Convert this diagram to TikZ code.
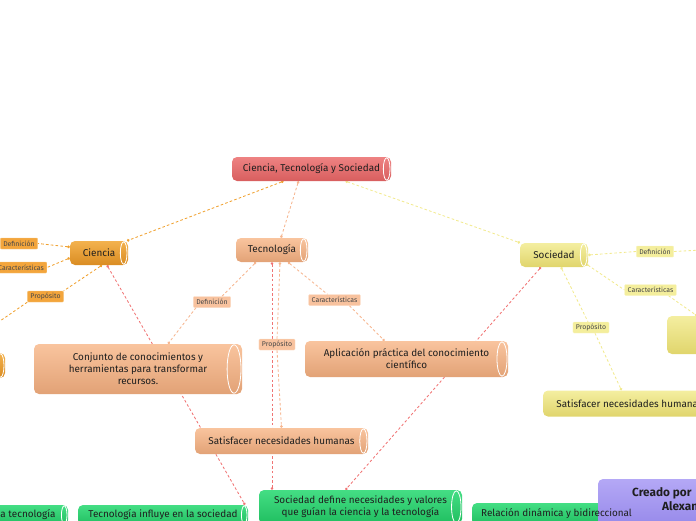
\documentclass[tikz,border=0pt]{standalone}
\usepackage{fontspec}
\setmainfont{Fira Sans}
\usetikzlibrary{arrows.meta,backgrounds,calc}
\definecolor{redT}{HTML}{EE8282}\definecolor{redB}{HTML}{D85E5E}
\definecolor{orT}{HTML}{F3B24E}\definecolor{orB}{HTML}{DA8C22}
\definecolor{saT}{HTML}{F9C49E}\definecolor{saB}{HTML}{E2A276}
\definecolor{yeT}{HTML}{F4EEA0}\definecolor{yeB}{HTML}{E0D56C}
\definecolor{grT}{HTML}{44DE84}\definecolor{grB}{HTML}{20BE60}
\definecolor{puT}{HTML}{B4A8F6}\definecolor{puB}{HTML}{8E80E6}
\definecolor{lnOr}{HTML}{F0A232}\definecolor{lnSa}{HTML}{F6B690}
\definecolor{lnYe}{HTML}{F2EA90}\definecolor{lnRe}{HTML}{F07474}
\definecolor{lbOr}{HTML}{F3A53C}\definecolor{lbSa}{HTML}{F8C29E}
\definecolor{lbYe}{HTML}{F4EE9C}
\begin{document}
\begin{tikzpicture}[x=1pt,y=-1pt,
  cylbox/.style={rectangle, rounded corners=5pt, inner sep=0pt, align=center,
    text=black!88, font=\fontsize{9.9}{12}\selectfont,
    path picture={\draw[white, line width=0.8pt]
      let \p1=(path picture bounding box.north east),
          \p2=(path picture bounding box.south east),
          \n1={abs(\y1-\y2)/2}, \n2={\n1/3.6} in
      ($(\p1)!0.5!(\p2)+(-\n2-1pt,0pt)$) ellipse [x radius=\n2, y radius=\n1-0.8pt];}},
  nRed/.style={cylbox, top color=redT, bottom color=redB},
  nOr/.style={cylbox, top color=orT, bottom color=orB},
  nSa/.style={cylbox, top color=saT, bottom color=saB},
  nYe/.style={cylbox, top color=yeT, bottom color=yeB},
  nGr/.style={cylbox, top color=grT, bottom color=grB},
  nPu/.style={cylbox, top color=puT, bottom color=puB},
  lbl/.style={rectangle, rounded corners=1pt, inner xsep=3pt, inner ysep=0pt,
    minimum height=11pt, font=\fontsize{6.9}{8}\selectfont, text=black!72},
  lOr/.style={lbl, fill=lbOr, draw=orT!70!white, line width=0.4pt},
  lSa/.style={lbl, fill=lbSa, draw=saT!60!white, line width=0.4pt},
  lYe/.style={lbl, fill=lbYe, draw=yeT!60!white, line width=0.4pt},
  lk/.style={line width=0.85pt, dash pattern=on 2.6pt off 2.2pt},
  kOr/.style={lk, draw=lnOr},
  kSa/.style={lk, draw=lnSa},
  kYe/.style={lk, draw=lnYe},
  kRe/.style={lk, draw=lnRe},
  dotboth/.style={{Circle[length=2.6pt]}-{Circle[length=2.6pt]}},
  dotstart/.style={{Circle[length=2.6pt]}-},
  dotend/.style={-{Circle[length=2.6pt]}},
  ttxt/.style={inner sep=0pt, text=black!88, font=\fontsize{9.9}{12}\selectfont}
]
\useasboundingbox (0,0) rectangle (696,520);
\clip (0,0) rectangle (696,520);

% main nodes
\node[nRed, minimum width=159pt, minimum height=24pt] (top) at (311.5,169) {Ciencia, Tecnología y Sociedad};
\node[nOr, minimum width=58pt, minimum height=24pt] (cien) at (99,253) {Ciencia};
\node[nSa, minimum width=72pt, minimum height=24pt] (tec) at (272,250) {Tecnología};
\node[nYe, minimum width=68pt, minimum height=24pt] (soc) at (554,255) {Sociedad};

\node[nSa, minimum width=208pt, minimum height=50pt] (conj) at (138,369) {Conjunto de conocimientos y\\herramientas para transformar\\recursos.};
\node[nSa, minimum width=203pt, minimum height=36pt] (apl) at (406.5,359) {Aplicación práctica del conocimiento\\científico};
\node[nSa, minimum width=173pt, minimum height=26pt] (satT) at (281.5,441) {Satisfacer necesidades humanas};
\node[nYe, minimum width=173pt, minimum height=26pt] (satS) at (629.5,403.5) {Satisfacer necesidades humanas};
\node[nYe, minimum width=200pt, minimum height=38pt] (socR) at (767,335) {};
\node[nOr, minimum width=200pt, minimum height=25pt] (cienL) at (-95,365.5) {};

% bottom nodes
\node[nGr, minimum width=80pt, minimum height=20pt] (g1) at (28,515) {a tecnología};
\node[nGr, minimum width=170pt, minimum height=20pt] (g2) at (163,515) {Tecnología influye en la sociedad};
\node[nGr, minimum width=203pt, minimum height=34pt] (g3) at (360.5,507) {Sociedad define necesidades y valores\\que guían la ciencia y la tecnología};
\node[nGr, minimum width=170pt, minimum height=22pt] (g4) at (557,514) {};
\node[nPu, minimum width=202pt, minimum height=61pt] (cre) at (699,509.5) {};
\node[ttxt, anchor=west] (g4t) at (481,513.5) {Relación dinámica y bidireccional};
\node[ttxt, anchor=west, font=\bfseries\fontsize{11.8}{14}\selectfont] (creA) at (632,493) {Creado por};
\node[ttxt, anchor=west, font=\bfseries\fontsize{11.8}{14}\selectfont] (creB) at (662,506) {Alexan};

% labels
\node[lOr] (def1) at (19,243.5) {Definición};
\node[lOr] (car1) at (21,267.5) {Características};
\node[lOr] (prop1) at (45.5,296.5) {Propósito};
\node[lSa] (def2) at (212,302) {Definición};
\node[lSa] (car2) at (334.5,300) {Características};
\node[lSa] (prop2) at (277,344.5) {Propósito};
\node[lYe] (def3) at (655,251.5) {Definición};
\node[lYe] (car3) at (650.5,290) {Características};
\node[lYe] (prop3) at (591,327.5) {Propósito};
\coordinate (offR) at (720,249);

\begin{pgfonlayer}{background}
% from central node
\draw[kOr, dotboth] ([xshift=-28pt]top.south) -- ([xshift=28pt]cien.north);
\draw[kSa, dotboth] ([xshift=-13pt]top.south) -- ([xshift=9pt]tec.north);
\draw[kYe, dotboth] ([xshift=34pt]top.south) -- ([xshift=-34pt]soc.north);
% Ciencia
\draw[kOr, dotstart] ([yshift=6pt]cien.west) -- (def1.east);
\draw[kOr, dotstart] ([yshift=-5pt]cien.west) -- (car1.east);
\draw[kOr, dotstart] ([xshift=3pt]cien.south) -- (prop1.north east);
\draw[kOr, dotend] (prop1.south west) -- ([xshift=49pt]cienL.north);
\draw[kRe, dotboth] ([xshift=8pt]cien.south) -- ([xshift=82pt]g2.north);
% Tecnologia
\draw[kSa, dotstart] ([xshift=-16pt]tec.south) -- ([xshift=10pt]def2.north);
\draw[kSa, dotend] ([xshift=-16pt]def2.south) -- ([xshift=30pt]conj.north);
\draw[kSa, dotstart] ([xshift=16pt]tec.south) -- ([xshift=-7pt]car2.north);
\draw[kSa, dotend] ([xshift=15pt]car2.south) -- ([xshift=-22pt]apl.north);
\draw[kSa, dotstart] ([xshift=8pt]tec.south) -- (prop2.north);
\draw[kSa, dotend] (prop2.south) -- (satT.north);
\draw[kRe, dotboth] (tec.south) -- ([xshift=-88.5pt]g3.north);
% Sociedad
\draw[kYe, dotstart] (soc.east) -- (def3.west);
\draw[kYe] (def3.east) -- (offR);
\draw[kYe, dotstart] ([xshift=-2pt,yshift=-9pt]soc.east) -- (car3.west);
\draw[kYe, dotend] ([xshift=-8pt]car3.south east) -- ([xshift=-70pt]socR.north);
\draw[kYe, dotstart] ([xshift=7pt]soc.south) -- ([xshift=-3pt]prop3.north);
\draw[kYe, dotend] ([xshift=4pt]prop3.south) -- ([xshift=-8pt]satS.north);
\draw[kRe, dotboth] ([xshift=-13pt]soc.south) -- ([xshift=-15pt]g3.north);
\end{pgfonlayer}
\end{tikzpicture}
\end{document}
